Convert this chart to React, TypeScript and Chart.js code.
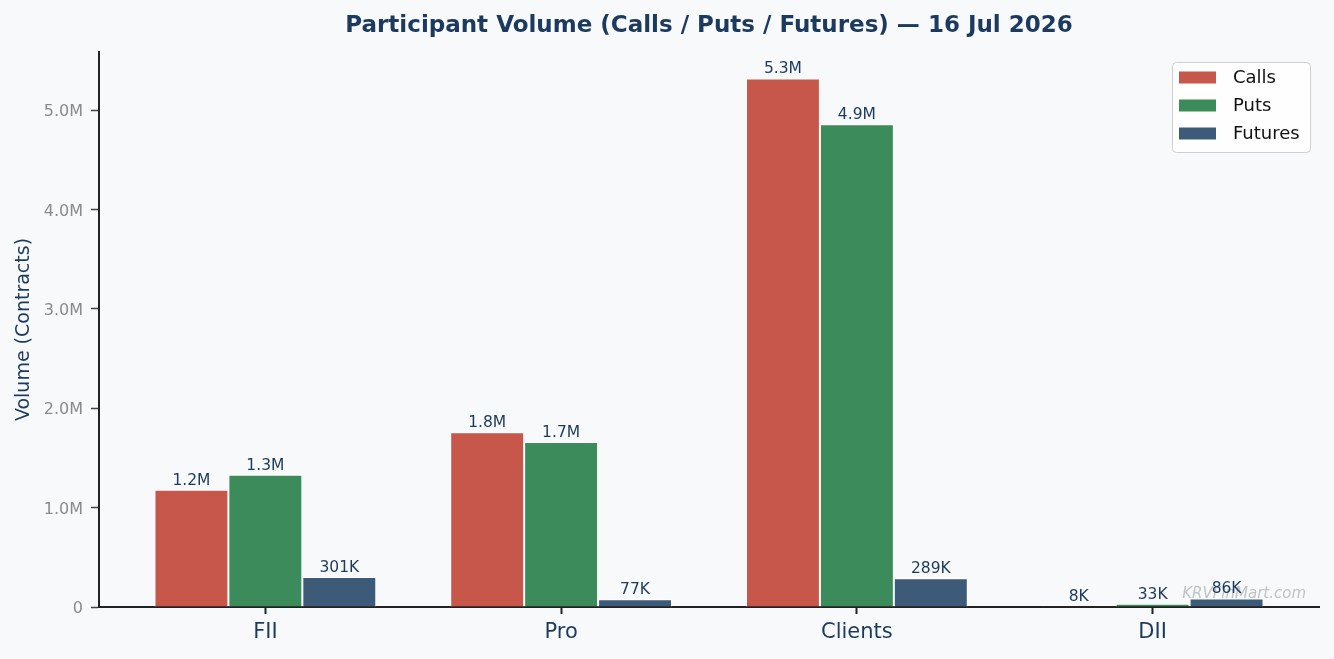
import { useEffect, useRef } from "react"
import { Chart, registerables } from "chart.js"
import type { Plugin } from "chart.js"

Chart.register(...registerables)

// values
const categories = ["FII", "Pro", "Clients", "DII"]
const callsVolume = [1180000, 1760000, 5320000, 8000]
const putsVolume = [1330000, 1660000, 4860000, 33000]
const futuresVolume = [301000, 77000, 289000, 86000]
const seriesNames = ["Calls", "Puts", "Futures"]
const seriesColors = ["#c8574b", "#3b8c5a", "#3d5a78"]
const yTickValues = [0, 1000000, 2000000, 3000000, 4000000, 5000000]

const chartTitle = "Participant Volume (Calls / Puts / Futures) — 16 Jul 2026"
const yAxisTitle = "Volume (Contracts)"
const watermarkText = "KRVFinMart.com"

const FONT = "'DejaVu Sans', sans-serif"
const NAVY = "#1c3a5e"
const BG = "#f7f9fb"

const formatVolume = (v: number) => {
    if (v >= 1e6) return (v / 1e6).toFixed(1) + "M"
    if (v >= 1e3) return Math.round(v / 1e3) + "K"
    return String(v)
}

const formatTick = (v: number) => (v === 0 ? "0" : (v / 1e6).toFixed(1) + "M")

const decorations: Plugin = {
    id: "decorations",
    beforeDraw(chart) {
        const { ctx, width, height } = chart
        ctx.save()
        ctx.fillStyle = BG
        ctx.fillRect(0, 0, width, height)
        ctx.restore()
    },
    beforeDatasetsDraw(chart) {
        const { ctx, chartArea } = chart
        ctx.save()
        ctx.font = `italic 15px ${FONT}`
        ctx.fillStyle = "rgba(150,150,150,0.55)"
        ctx.textAlign = "right"
        ctx.textBaseline = "alphabetic"
        ctx.fillText(watermarkText, chartArea.right - 13, chartArea.bottom - 9)
        ctx.restore()
    },
    afterDatasetsDraw(chart) {
        const { ctx } = chart
        ctx.save()
        ctx.font = `15.5px ${FONT}`
        ctx.fillStyle = NAVY
        ctx.textAlign = "center"
        ctx.textBaseline = "alphabetic"
        chart.data.datasets.forEach((ds, i) => {
            const meta = chart.getDatasetMeta(i)
            meta.data.forEach((el: any, j) => {
                const raw: any = ds.data[j]
                ctx.fillText(formatVolume(raw.y), el.x, el.y - 5)
            })
        })
        ctx.restore()
    },
    afterDraw(chart) {
        const { ctx, chartArea } = chart
        ctx.save()

        // title
        ctx.font = `bold 23px ${FONT}`
        ctx.fillStyle = NAVY
        ctx.textAlign = "center"
        ctx.textBaseline = "alphabetic"
        ctx.fillText(chartTitle, (chartArea.left + chartArea.right) / 2, 32)

        // y axis title
        ctx.save()
        ctx.translate(24, (chartArea.top + chartArea.bottom) / 2)
        ctx.rotate(-Math.PI / 2)
        ctx.font = `19px ${FONT}`
        ctx.textBaseline = "middle"
        ctx.fillText(yAxisTitle, 0, 0)
        ctx.restore()

        // legend box
        const boxRight = chartArea.right - 9
        const boxLeft = boxRight - 138
        const boxTop = chartArea.top + 10
        const boxBottom = boxTop + 90
        ctx.beginPath()
        ctx.roundRect(boxLeft + 0.5, boxTop + 0.5, boxRight - boxLeft, boxBottom - boxTop, 4)
        ctx.fillStyle = "rgba(255,255,255,0.8)"
        ctx.fill()
        ctx.strokeStyle = "#cfcfcf"
        ctx.lineWidth = 1
        ctx.stroke()

        ctx.font = `18px ${FONT}`
        ctx.textAlign = "left"
        ctx.textBaseline = "middle"
        seriesNames.forEach((name, i) => {
            const cy = boxTop + 15.5 + i * 28
            ctx.fillStyle = seriesColors[i]
            ctx.fillRect(boxLeft + 7, cy - 6, 37, 12)
            ctx.fillStyle = "#111"
            ctx.fillText(name, boxLeft + 61, cy + 1)
        })

        ctx.restore()
    }
}

export default function App() {
    const canvasRef = useRef<HTMLCanvasElement>(null)

    useEffect(() => {
        document.body.style.margin = "0"
        document.body.style.background = BG
        if (!canvasRef.current) return

        const seriesValues = [callsVolume, putsVolume, futuresVolume]
        const allValues = seriesValues.flat()
        const yMax = Math.max(...allValues) * 1.05

        const chart = new Chart(canvasRef.current, {
            type: "bar",
            data: {
                datasets: seriesValues.map((values, i) => ({
                    label: seriesNames[i],
                    data: values.map((v, j) => ({ x: j, y: v })),
                    backgroundColor: seriesColors[i],
                    borderColor: "#ffffff",
                    borderWidth: 1,
                    categoryPercentage: 0.75,
                    barPercentage: 1
                }))
            },
            options: {
                animation: false,
                responsive: false,
                devicePixelRatio: 1,
                layout: { padding: { top: 52, right: 15, left: 0, bottom: 0 } },
                plugins: {
                    legend: { display: false },
                    title: { display: false },
                    tooltip: { enabled: false }
                },
                scales: {
                    x: {
                        type: "linear",
                        offset: false,
                        min: -0.5625,
                        max: categories.length - 1 + 0.5625,
                        afterBuildTicks: (scale: any) => {
                            scale.ticks = categories.map((_, i) => ({ value: i }))
                        },
                        afterFit: (scale: any) => {
                            scale.height = 52
                        },
                        ticks: {
                            callback: (v: any) => categories[v] ?? "",
                            font: { family: FONT, size: 21 },
                            color: NAVY,
                            padding: 6,
                            maxRotation: 0,
                            autoSkip: false
                        },
                        grid: {
                            display: true,
                            offset: false,
                            drawOnChartArea: false,
                            drawTicks: true,
                            tickLength: 7,
                            tickWidth: 2,
                            tickColor: "#222"
                        },
                        border: { display: true, color: "#222", width: 2 }
                    },
                    y: {
                        min: 0,
                        max: yMax,
                        afterBuildTicks: (scale: any) => {
                            scale.ticks = yTickValues.map((v) => ({ value: v }))
                        },
                        afterFit: (scale: any) => {
                            scale.width = 99
                        },
                        ticks: {
                            callback: (v: any) => formatTick(Number(v)),
                            font: { family: FONT, size: 16 },
                            color: "#8a8a8a",
                            padding: 8,
                            labelOffset: 2
                        },
                        grid: {
                            display: true,
                            drawOnChartArea: false,
                            drawTicks: true,
                            tickLength: 8,
                            tickWidth: 1.5,
                            tickColor: "#444"
                        },
                        border: { display: true, color: "#222", width: 2 }
                    }
                }
            },
            plugins: [decorations]
        })

        return () => {
            chart.destroy()
        }
    }, [])

    return (
        <div style={{ width: 1334, height: 659 }}>
            <canvas ref={canvasRef} width={1334} height={659} style={{ width: 1334, height: 659, display: "block" }} />
        </div>
    )
}
